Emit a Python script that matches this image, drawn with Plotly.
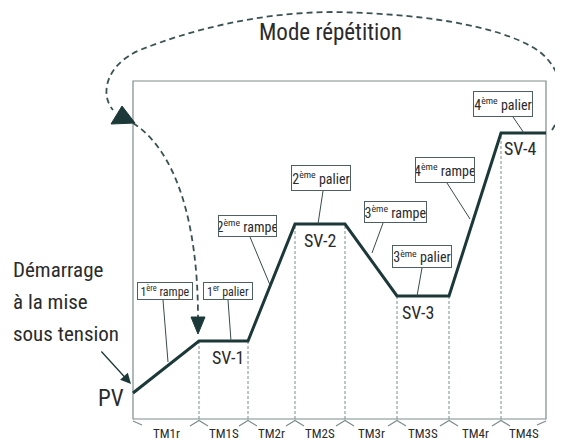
import plotly.graph_objects as go

# ---------------- data ----------------
phase_labels = ["TM1r", "TM1S", "TM2r", "TM2S", "TM3r", "TM3S", "TM4r", "TM4S"]
phase_bounds = [0, 66, 115, 162, 212, 264, 316, 368, 413]      # time axis units
sv_names = ["PV", "SV-1", "SV-2", "SV-3", "SV-4"]
sv_values = [26, 78, 195, 123, 286]                              # value axis units
box_labels = ["1<sup>ère</sup> rampe", "1<sup>er</sup> palier",
              "2<sup>ème</sup> rampe", "2<sup>ème</sup> palier",
              "3<sup>ème</sup> rampe", "3<sup>ème</sup> palier",
              "4<sup>ème</sup> rampe", "4<sup>ème</sup> palier"]
top_value = 338

# profile: ramp then soak for each step
prof_x = list(phase_bounds)
prof_y = [sv_values[0]] + [v for v in sv_values[1:] for _ in (0, 1)]

# ---------------- helpers (pixel -> data) ----------------
OX, OY = 133, 419
PAGE_MARGIN = 8   # default body margin of the html page
def X(px): return px - OX
def Y(py): return OY - py

DARK = "#1d3838"
GREY = "#7d8c8c"
TXT = "#2b2b2b"
NARROW = "Liberation Sans Narrow, Roboto Condensed, DejaVu Sans Condensed, Roboto, sans-serif"

fig = go.Figure()

shapes = []
# frame
shapes.append(dict(type="rect", x0=phase_bounds[0], x1=phase_bounds[-1], y0=0, y1=top_value,
                   line=dict(color=GREY, width=1.2), layer="below"))
# vertical dashed boundaries
for i in range(1, len(phase_bounds) - 1):
    shapes.append(dict(type="line", x0=phase_bounds[i], x1=phase_bounds[i], y0=0, y1=prof_y[i],
                       line=dict(color=GREY, width=1, dash="3px,2px"), layer="below"))
# bottom brackets
for i, b in enumerate(phase_bounds):
    if i == 0:
        p = f"M {b},{Y(421)} L {b+9},{Y(425)}"
    elif i == len(phase_bounds) - 1:
        p = f"M {b-9},{Y(425)} L {b},{Y(421)}"
    else:
        p = f"M {b-9},{Y(426)} L {b},{Y(420.5)} L {b+9},{Y(426)}"
    shapes.append(dict(type="path", path=p, line=dict(color=GREY, width=1.2)))

# repeat-mode dashed curve
def P(pts):
    return " ".join(f"{X(a)},{Y(b)}" for a, b in pts)
curve = ("M " + P([(552, 130)]) +
         " C " + P([(565, 110), (568, 75), (540, 52)]) +
         " C " + P([(510, 30), (440, 14), (334, 12)]) +
         " C " + P([(260, 12), (190, 30), (140, 50)]) +
         " C " + P([(105, 65), (100, 95), (113, 110)]))
shapes.append(dict(type="path", path=curve, line=dict(color="#3c5252", width=1.8, dash="6px,4px")))
curve2 = "M " + P([(133, 123)]) + " C " + P([(175, 150), (198, 220), (198, 318)])
shapes.append(dict(type="path", path=curve2, line=dict(color="#3c5252", width=1.8, dash="6px,4px")))
# arrowheads
shapes.append(dict(type="path", path="M " + P([(122, 106)]) + " L " + P([(111, 124)]) + " L " + P([(135, 123)]) + " Z",
                   fillcolor=DARK, line=dict(color=DARK, width=1)))
shapes.append(dict(type="path", path="M " + P([(191, 317)]) + " L " + P([(205, 317)]) + " L " + P([(198, 334)]) + " Z",
                   fillcolor=DARK, line=dict(color=DARK, width=1)))

# leader lines (box -> profile)
leaders = [((163, 300), (168, 362)), ((228, 300), (231, 341)), ((250, 237), (270, 285)),
           ((323, 191), (318, 224)), ((383, 223), (372, 253)), ((422, 268), (417, 296)),
           ((447, 183), (470, 219)), ((513, 117), (524, 133))]
for (a, b), (c, d) in leaders:
    shapes.append(dict(type="line", x0=X(a), y0=Y(b), x1=X(c), y1=Y(d),
                       line=dict(color="#3a4a4a", width=1)))

# profile line
fig.add_trace(go.Scatter(x=prof_x, y=prof_y, mode="lines",
                         line=dict(color=DARK, width=3), hoverinfo="skip", showlegend=False))

ann = []
# boxed labels
box_geo = [(165, 291, 56, 18), (228, 291, 50, 18), (247.5, 226, 59, 22), (321, 178, 60, 26),
           (395.5, 212, 63, 22), (422, 256.5, 60, 23), (445, 170, 60, 26), (503, 104, 60, 26)]
for lab, (cx, cy, w, h) in zip(box_labels, box_geo):
    ann.append(dict(x=X(cx), y=Y(cy), text=lab, showarrow=False, width=w - 2, height=h - 2,
                    bgcolor="white", bordercolor="#4f5f5f", borderwidth=1, borderpad=0,
                    font=dict(family=NARROW, size=14 if h > 19 else 12, color=TXT)))
# SV labels
sv_pos = [(228, 357), (320, 240), (418, 312), (520, 148)]
for name, (cx, cy) in zip(sv_names[1:], sv_pos):
    ann.append(dict(x=X(cx), y=Y(cy), text=name, showarrow=False,
                    font=dict(family=NARROW, size=18, color=TXT)))
# PV
ann.append(dict(x=X(126), y=Y(398), text=sv_names[0], showarrow=False, xanchor="right",
                font=dict(family=NARROW, size=23, color=TXT)))
# startup text
for txt, cy in [("Démarrage", 270), ("à la mise", 302), ("sous tension", 334)]:
    ann.append(dict(x=X(11), y=Y(cy), text=txt, showarrow=False, xanchor="left",
                    font=dict(family=NARROW, size=21, color=TXT)))
# small arrow to PV
ann.append(dict(x=X(131), y=Y(384), ax=X(100), ay=Y(350), axref="x", ayref="y",
                text="", showarrow=True, arrowhead=2, arrowsize=1.6, arrowwidth=1.3,
                arrowcolor=DARK))
# title
ann.append(dict(x=X(330), y=Y(32), text="Mode répétition", showarrow=False,
                font=dict(family=NARROW, size=23, color=TXT)))
# phase labels
for i, lab in enumerate(phase_labels):
    cx = (phase_bounds[i] + phase_bounds[i + 1]) / 2
    ann.append(dict(x=cx, y=Y(433), text=lab, showarrow=False,
                    font=dict(family=NARROW, size=13, color=TXT)))

W, H = 563 - PAGE_MARGIN, 440 - PAGE_MARGIN
fig.update_layout(
    width=W, height=H, autosize=False,
    margin=dict(l=0, r=0, t=0, b=0),
    paper_bgcolor="white", plot_bgcolor="white",
    xaxis=dict(range=[X(PAGE_MARGIN), X(563)], visible=False, fixedrange=True),
    yaxis=dict(range=[Y(440), Y(PAGE_MARGIN)], visible=False, fixedrange=True),
    shapes=shapes, annotations=ann, showlegend=False,
)
fig.write_html("out.html")
